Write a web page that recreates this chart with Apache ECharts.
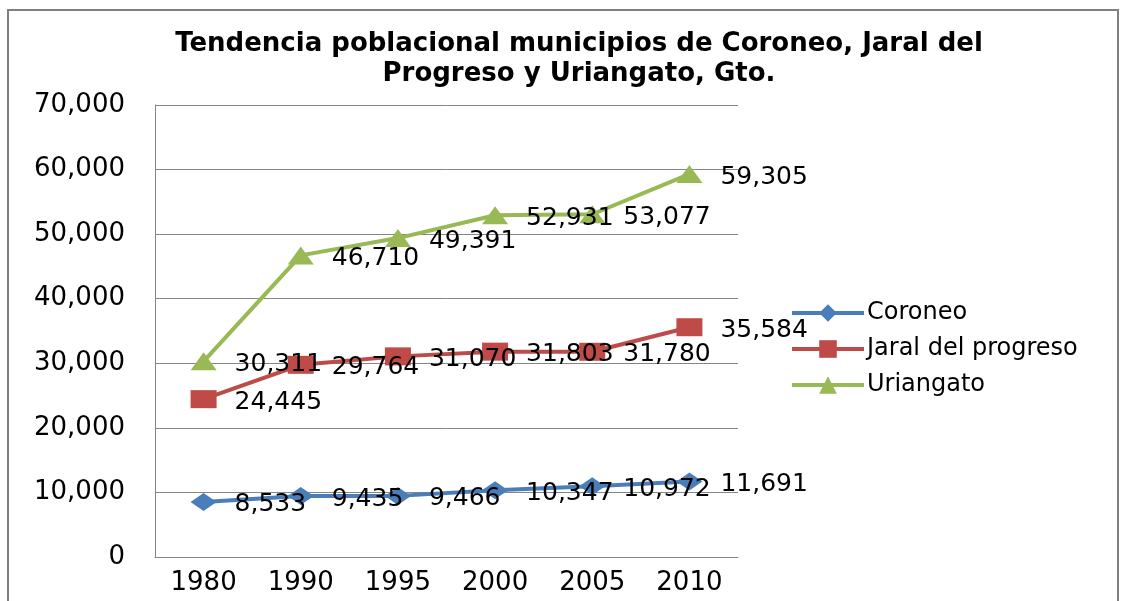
<!DOCTYPE html>
<html>
<head>
<meta charset="utf-8">
<script src="https://cdn.jsdelivr.net/npm/echarts@6/dist/echarts.min.js"></script>
<style>
html,body{margin:0;padding:0;background:#fff;}
#main{width:1124px;height:601px;}
</style>
</head>
<body>
<div id="main"></div>
<script>
// datos
var anios = ['1980', '1990', '1995', '2000', '2005', '2010'];
var coroneo = [8533, 9435, 9466, 10347, 10972, 11691];
var jaral = [24445, 29764, 31070, 31803, 31780, 35584];
var uriangato = [30311, 46710, 49391, 52931, 53077, 59305];

function miles(v){
	return String(v).replace(/\B(?=(\d{3})+(?!\d))/g, ',');
}

var fuente = 'DejaVu Sans';
var etiqueta = {
	show: true,
	position: 'right',
	distance: 18,
	offset: [0, 3],
	color: '#000',
	fontFamily: fuente,
	fontSize: 25,
	formatter: function(p){ return miles(p.value); }
};

function serie(nombre, datos, color, simbolo){
	return {
		name: nombre,
		type: 'line',
		data: datos,
		symbol: simbolo,
		symbolSize: [26, 18],
		lineStyle: {color: color, width: 4},
		itemStyle: {color: color},
		label: etiqueta,
		animation: false
	};
}

var myChart = echarts.init(document.getElementById('main'));
var option = {
	backgroundColor: '#fff',
	title: {
		text: 'Tendencia poblacional municipios de Coroneo, Jaral del\nProgreso y Uriangato, Gto.',
		left: 574,
		textAlign: 'center',
		top: 24,
		textStyle: {
			fontFamily: fuente,
			fontSize: 26,
			fontWeight: 'bold',
			color: '#000',
			lineHeight: 30
		}
	},
	graphic: [{
		type: 'polyline',
		shape: {points: [[8, 601], [8, 10], [1118, 10], [1118, 601]]},
		style: {stroke: '#7f7f7f', lineWidth: 2, fill: null}
	}],
	legend: {
		orient: 'vertical',
		left: 785,
		top: 296,
		itemWidth: 72,
		itemHeight: 22,
		itemGap: 12,
		lineStyle: {width: 4},
		textStyle: {fontFamily: fuente, fontSize: 24, color: '#000', padding: [0, 0, 0, -2]},
		data: ['Coroneo', 'Jaral del progreso', 'Uriangato']
	},
	grid: {left: 155, right: 386, top: 105, bottom: 44},
	xAxis: {
		type: 'category',
		data: anios,
		axisLine: {lineStyle: {color: '#868686', width: 1}},
		axisTick: {show: false},
		axisLabel: {fontFamily: fuente, fontSize: 26, color: '#000', margin: 13}
	},
	yAxis: {
		type: 'value',
		min: 0,
		max: 70000,
		interval: 10000,
		axisLine: {show: true, lineStyle: {color: '#868686', width: 1}},
		axisTick: {show: false},
		splitLine: {lineStyle: {color: '#868686', width: 1}},
		axisLabel: {
			fontFamily: fuente, fontSize: 26, color: '#000', margin: 30,
			formatter: function(v){ return miles(v); }
		}
	},
	series: [
		serie('Coroneo', coroneo, '#4A7EBB', 'diamond'),
		serie('Jaral del progreso', jaral, '#BE4B48', 'rect'),
		serie('Uriangato', uriangato, '#98B954', 'triangle')
	]
};
myChart.setOption(option);
</script>
</body>
</html>
